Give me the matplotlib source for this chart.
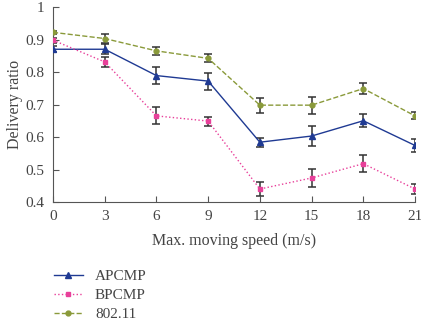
import matplotlib
matplotlib.use("Agg")
from matplotlib import pyplot as plt

# Data
speeds = [0, 3, 6, 9, 12, 15, 18, 21]
apcmp = [0.870, 0.870, 0.789, 0.772, 0.584, 0.603, 0.650, 0.574]
apcmp_err = [0.009, 0.015, 0.025, 0.026, 0.014, 0.030, 0.020, 0.020]
bpcmp = [0.898, 0.831, 0.665, 0.649, 0.440, 0.474, 0.518, 0.440]
bpcmp_err = [0.008, 0.016, 0.026, 0.014, 0.023, 0.028, 0.026, 0.014]
ieee = [0.922, 0.903, 0.865, 0.842, 0.698, 0.698, 0.749, 0.665]
ieee_err = [0.005, 0.014, 0.013, 0.012, 0.023, 0.026, 0.017, 0.011]
yticks = [0.4, 0.5, 0.6, 0.7, 0.8, 0.9, 1]

plt.rcParams['font.family'] = ['Liberation Serif', 'DejaVu Serif']
text_color = '#444444'

fig = plt.figure(figsize=(4.21, 3.24), dpi=100)
ax = fig.add_axes((0.1259, 0.3765, 0.8599, 0.6019))

series = [
    (apcmp, apcmp_err, 'APCMP', '#1f3a93', '-', '^', 4),
    (bpcmp, bpcmp_err, 'BPCMP', '#e8409a', ':', 's', 3.5),
    (ieee, ieee_err, '802.11', '#8a9a3a', '--', 'o', 3.5),
]
handles = []
for vals, errs, name, color, ls, mk, ms in series:
    ax.errorbar(speeds, vals, yerr=errs, fmt='none', ecolor='#333333',
                elinewidth=1.1, capsize=3, capthick=1.1, zorder=2)
    line, = ax.plot(speeds, vals, color=color, linestyle=ls, linewidth=1.0,
                    marker=mk, markersize=ms, label=name, zorder=3)
    handles.append(line)

ax.set_xlim(0, 21)
ax.set_ylim(0.4, 1.0)
ax.set_xticks(speeds)
ax.set_yticks(yticks)
ax.set_yticklabels(['0.4', '0.5', '0.6', '0.7', '0.8', '0.9', '1'])
ax.tick_params(direction='in', length=4, colors='#555555', labelsize=11,
               labelcolor=text_color)
ax.tick_params(axis='x', pad=6)
ax.tick_params(axis='y', pad=6)
ax.spines['top'].set_visible(False)
ax.spines['right'].set_visible(False)
for s in ('left', 'bottom'):
    ax.spines[s].set_color('#555555')
ax.set_xlabel('Max. moving speed (m/s)', fontsize=11.5, color=text_color,
              labelpad=7)
ax.set_ylabel('Delivery ratio', fontsize=11.5, color=text_color, labelpad=2)

fig.legend(handles=handles, loc='upper left', bbox_to_anchor=(0.095, 0.21),
           frameon=False, fontsize=11, labelcolor=text_color,
           handlelength=1.9, handletextpad=0.8, labelspacing=0.35)

fig.savefig('out.png', dpi=100)
